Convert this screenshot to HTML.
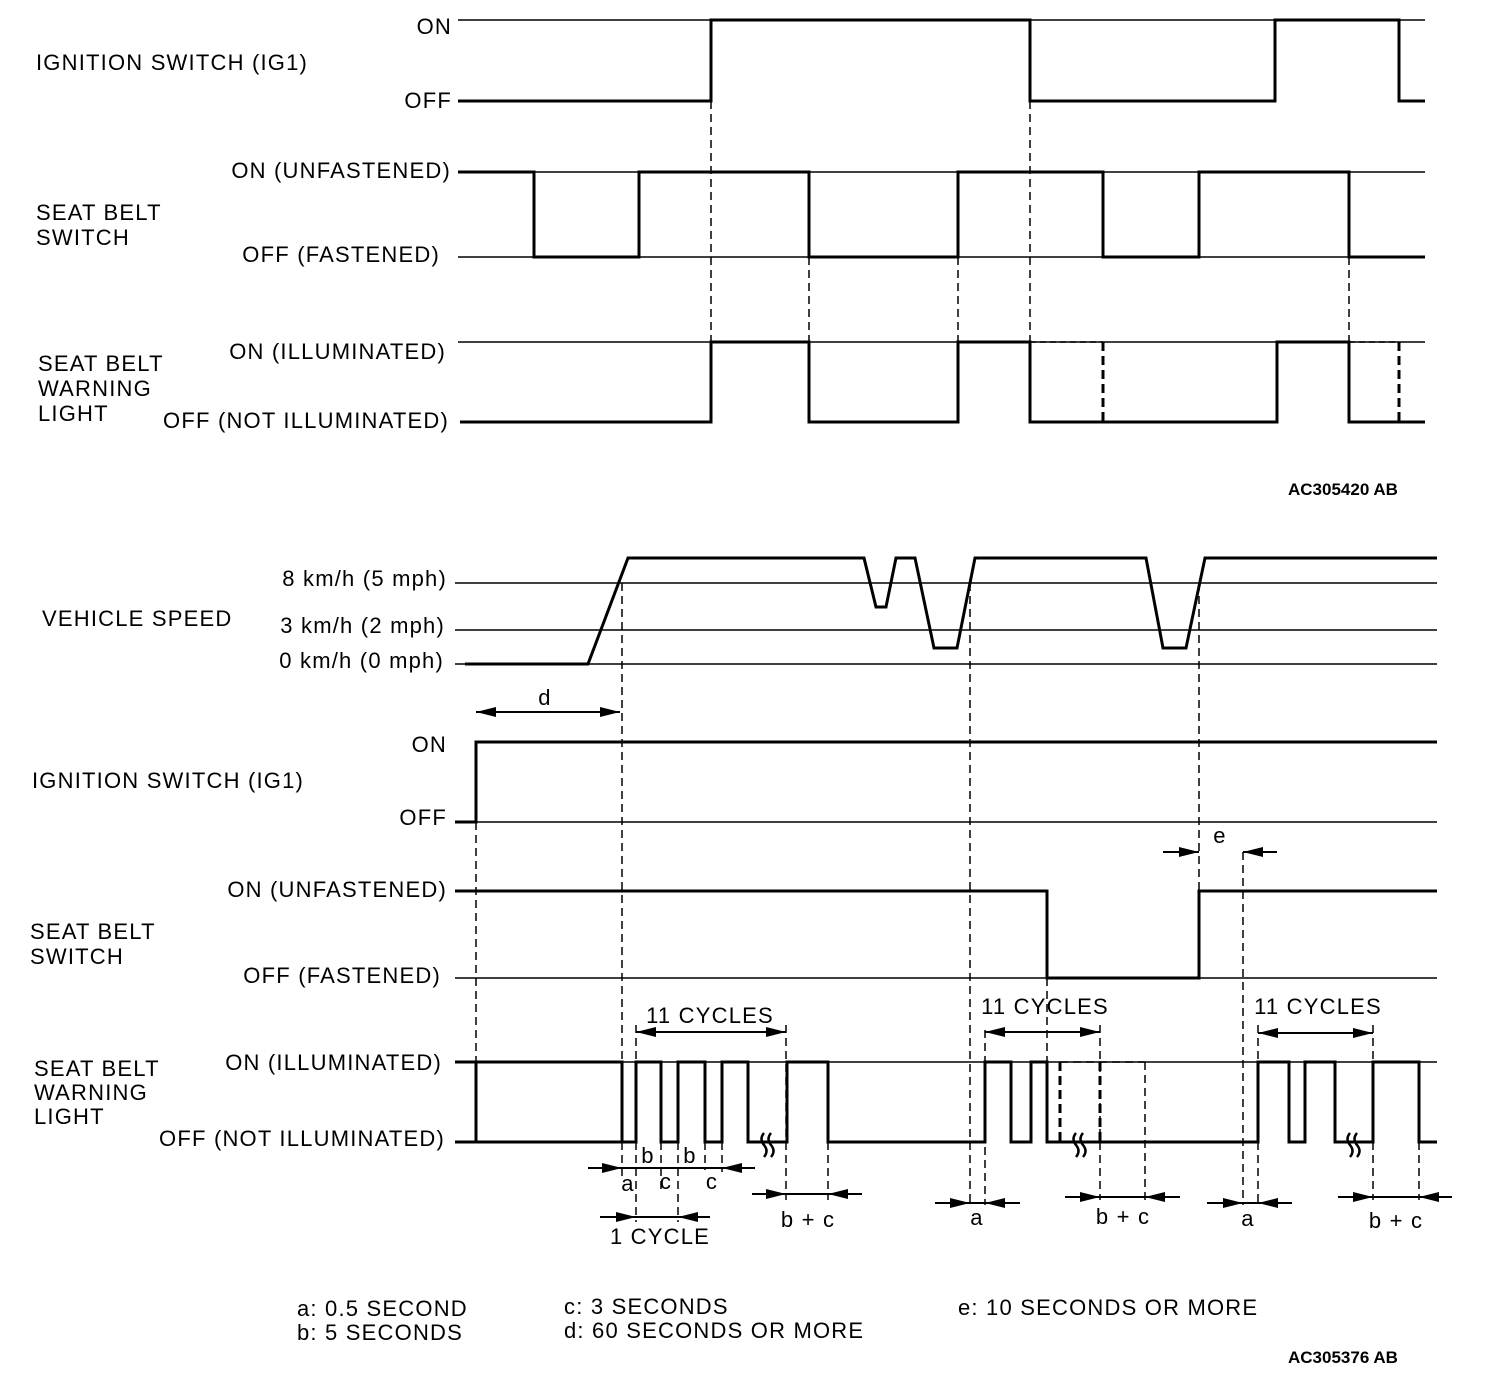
<!DOCTYPE html>
<html><head><meta charset="utf-8"><style>
body{margin:0;background:#fff}
svg{display:block}
text{font-family:"Liberation Sans",Arial,sans-serif;font-size:22px;fill:#000;letter-spacing:1.2px}
.b{font-weight:bold;font-size:17px;letter-spacing:0}
</style></head><body>
<svg width="1504" height="1384" viewBox="0 0 1504 1384" xmlns="http://www.w3.org/2000/svg">
<defs>
<marker id="ar" markerUnits="userSpaceOnUse" markerWidth="22" markerHeight="12" refX="20" refY="6" orient="auto-start-reverse"><path d="M0,1 L20,6 L0,11 Z" fill="#000"/></marker>
</defs>
<g fill="none" stroke="#000">
<g stroke-width="1.5">
<line x1="458" y1="20" x2="1425" y2="20"/>
<line x1="458" y1="172" x2="1425" y2="172"/>
<line x1="458" y1="257" x2="1425" y2="257"/>
<line x1="458" y1="342" x2="1425" y2="342"/>
</g>
<g stroke-width="3">
<polyline points="458,101 711,101 711,20 1030,20 1030,101 1275,101 1275,20 1399,20 1399,101 1425,101"/>
<polyline points="458,172 534,172 534,257 639,257 639,172 809,172 809,257 958,257 958,172 1103,172 1103,257 1199,257 1199,172 1349,172 1349,257 1425,257"/>
<polyline points="460,422 711,422 711,342 809,342 809,422 958,422 958,342 1030,342 1030,422 1277,422 1277,342 1349,342 1349,422 1425,422"/>
</g>
<g stroke-width="1.5" stroke-dasharray="8,5">
<line x1="711" y1="101" x2="711" y2="342"/>
<line x1="1030" y1="101" x2="1030" y2="342"/>
<line x1="809" y1="257" x2="809" y2="342"/>
<line x1="958" y1="257" x2="958" y2="342"/>
<line x1="1349" y1="257" x2="1349" y2="342"/>
</g>
<g stroke-width="3" stroke-dasharray="9,5">
<line x1="1103" y1="342" x2="1103" y2="422"/>
<line x1="1399" y1="342" x2="1399" y2="422"/>
</g>
<g stroke-width="1.5" stroke-dasharray="6,4">
<line x1="1030" y1="342" x2="1103" y2="342"/>
<line x1="1349" y1="342" x2="1399" y2="342"/>
</g>

<g stroke-width="1.5">
<line x1="455" y1="583" x2="1437" y2="583"/>
<line x1="455" y1="630" x2="1437" y2="630"/>
<line x1="455" y1="664" x2="1437" y2="664"/>
<line x1="455" y1="822" x2="1437" y2="822"/>
<line x1="455" y1="978" x2="1437" y2="978"/>
<line x1="455" y1="1062" x2="1437" y2="1062"/>
</g>
<g stroke-width="3">
<polyline points="465,664 588,664 628,558 864,558 876,607 886,607 896,558 915,558 934,648 957,648 975,558 1146,558 1163,648 1186,648 1205,558 1437,558"/>
<polyline points="455,822 476,822 476,742 1437,742"/>
<polyline points="455,891 1047,891 1047,978 1199,978 1199,891 1437,891"/>
<polyline points="455,1062 476,1062 476,1142 455,1142"/>
<polyline points="476,1142 622,1142 622,1062 476,1062"/>
<polyline points="622,1142 636,1142 636,1062 661,1062 661,1142 678,1142 678,1062 705,1062 705,1142 722,1142 722,1062 748,1062 748,1142 787,1142 787,1062 828,1062 828,1142 985,1142 985,1062 1011,1062 1011,1142 1031,1142 1031,1062 1047,1062 1047,1142 1258,1142 1258,1062 1289,1062 1289,1142 1305,1142 1305,1062 1335,1062 1335,1142 1373,1142 1373,1062 1419,1062 1419,1142 1437,1142"/>
</g>
<g stroke-width="2.5">
<path d="M764,1133 q-5,6 0,12 q5,6 0,12"/><path d="M771,1133 q-5,6 0,12 q5,6 0,12"/>
<path d="M1076,1133 q-5,6 0,12 q5,6 0,12"/><path d="M1083,1133 q-5,6 0,12 q5,6 0,12"/>
<path d="M1350,1133 q-5,6 0,12 q5,6 0,12"/><path d="M1357,1133 q-5,6 0,12 q5,6 0,12"/>
</g>
<g stroke-width="3" stroke-dasharray="9,5">
<line x1="1060" y1="1062" x2="1060" y2="1142"/>
<line x1="1100" y1="1062" x2="1100" y2="1142"/>
</g>
<g stroke-width="1.5" stroke-dasharray="8,5">
<line x1="476" y1="822" x2="476" y2="1062"/>
<line x1="622" y1="583" x2="622" y2="1180"/>
<line x1="636" y1="1025" x2="636" y2="1222"/>
<line x1="661" y1="1142" x2="661" y2="1190"/>
<line x1="678" y1="1142" x2="678" y2="1222"/>
<line x1="705" y1="1142" x2="705" y2="1170"/>
<line x1="722" y1="1142" x2="722" y2="1172"/>
<line x1="786" y1="1025" x2="786" y2="1200"/>
<line x1="828" y1="1142" x2="828" y2="1200"/>
<line x1="970" y1="583" x2="970" y2="1205"/>
<line x1="985" y1="1030" x2="985" y2="1205"/>
<line x1="1047" y1="978" x2="1047" y2="1062"/>
<line x1="1100" y1="1025" x2="1100" y2="1200"/>
<line x1="1145" y1="1062" x2="1145" y2="1200"/>
<line x1="1199" y1="583" x2="1199" y2="891"/>
<line x1="1243" y1="852" x2="1243" y2="1205"/>
<line x1="1258" y1="1025" x2="1258" y2="1205"/>
<line x1="1373" y1="1025" x2="1373" y2="1200"/>
<line x1="1419" y1="1142" x2="1419" y2="1200"/>
<line x1="1060" y1="1062" x2="1145" y2="1062"/>
</g>
<g stroke-width="2">
<line x1="476" y1="712" x2="620" y2="712" marker-end="url(#ar)" marker-start="url(#ar)"/>
<line x1="1163" y1="852" x2="1199" y2="852" marker-end="url(#ar)"/>
<line x1="1277" y1="852" x2="1243" y2="852" marker-end="url(#ar)"/>
<line x1="636" y1="1032" x2="786" y2="1032" marker-end="url(#ar)" marker-start="url(#ar)"/>
<line x1="588" y1="1168" x2="622" y2="1168" marker-end="url(#ar)"/>
<line x1="622" y1="1168" x2="722" y2="1168"/>
<line x1="755" y1="1168" x2="722" y2="1168" marker-end="url(#ar)"/>
<line x1="600" y1="1217" x2="636" y2="1217" marker-end="url(#ar)"/>
<line x1="636" y1="1217" x2="678" y2="1217"/>
<line x1="710" y1="1217" x2="678" y2="1217" marker-end="url(#ar)"/>
<line x1="752" y1="1194" x2="786" y2="1194" marker-end="url(#ar)"/>
<line x1="786" y1="1194" x2="828" y2="1194"/>
<line x1="862" y1="1194" x2="828" y2="1194" marker-end="url(#ar)"/>
<line x1="985" y1="1032" x2="1100" y2="1032" marker-end="url(#ar)" marker-start="url(#ar)"/>
<line x1="935" y1="1203" x2="970" y2="1203" marker-end="url(#ar)"/>
<line x1="970" y1="1203" x2="985" y2="1203"/>
<line x1="1020" y1="1203" x2="985" y2="1203" marker-end="url(#ar)"/>
<line x1="1065" y1="1197" x2="1100" y2="1197" marker-end="url(#ar)"/>
<line x1="1100" y1="1197" x2="1145" y2="1197"/>
<line x1="1180" y1="1197" x2="1145" y2="1197" marker-end="url(#ar)"/>
<line x1="1258" y1="1033" x2="1373" y2="1033" marker-end="url(#ar)" marker-start="url(#ar)"/>
<line x1="1207" y1="1203" x2="1243" y2="1203" marker-end="url(#ar)"/>
<line x1="1243" y1="1203" x2="1258" y2="1203"/>
<line x1="1292" y1="1203" x2="1258" y2="1203" marker-end="url(#ar)"/>
<line x1="1338" y1="1197" x2="1373" y2="1197" marker-end="url(#ar)"/>
<line x1="1373" y1="1197" x2="1419" y2="1197"/>
<line x1="1452" y1="1197" x2="1419" y2="1197" marker-end="url(#ar)"/>
</g>
</g>
<g text-anchor="end">
<text x="452" y="34">ON</text>
<text x="452" y="108">OFF</text>
<text x="451" y="178">ON (UNFASTENED)</text>
<text x="440" y="262">OFF (FASTENED)</text>
<text x="446" y="359">ON (ILLUMINATED)</text>
<text x="449" y="428">OFF (NOT ILLUMINATED)</text>
<text x="447" y="586">8 km/h (5 mph)</text>
<text x="445" y="633">3 km/h (2 mph)</text>
<text x="444" y="668">0 km/h (0 mph)</text>
<text x="447" y="752">ON</text>
<text x="447" y="825">OFF</text>
<text x="447" y="897">ON (UNFASTENED)</text>
<text x="441" y="983">OFF (FASTENED)</text>
<text x="442" y="1070">ON (ILLUMINATED)</text>
<text x="445" y="1146">OFF (NOT ILLUMINATED)</text>
</g>
<text x="36" y="70">IGNITION SWITCH (IG1)</text>
<text x="36" y="220">SEAT BELT</text>
<text x="36" y="245">SWITCH</text>
<text x="38" y="371">SEAT BELT</text>
<text x="38" y="396">WARNING</text>
<text x="38" y="421">LIGHT</text>
<text x="42" y="626">VEHICLE SPEED</text>
<text x="32" y="788">IGNITION SWITCH (IG1)</text>
<text x="30" y="939">SEAT BELT</text>
<text x="30" y="964">SWITCH</text>
<text x="34" y="1076">SEAT BELT</text>
<text x="34" y="1100">WARNING</text>
<text x="34" y="1124">LIGHT</text>
<text class="b" x="1288" y="495">AC305420 AB</text>
<text class="b" x="1288" y="1363">AC305376 AB</text>
<g text-anchor="middle">
<text x="545" y="705">d</text>
<text x="1220" y="843">e</text>
<text x="710" y="1023">11 CYCLES</text>
<text x="648" y="1163">b</text>
<text x="690" y="1163">b</text>
<text x="628" y="1191">a</text>
<text x="666" y="1189">c</text>
<text x="712" y="1189">c</text>
<text x="660" y="1244">1 CYCLE</text>
<text x="808" y="1227">b + c</text>
<text x="1045" y="1014">11 CYCLES</text>
<text x="977" y="1225">a</text>
<text x="1123" y="1224">b + c</text>
<text x="1318" y="1014">11 CYCLES</text>
<text x="1248" y="1226">a</text>
<text x="1396" y="1228">b + c</text>
</g>
<text x="297" y="1316">a: 0.5 SECOND</text>
<text x="297" y="1340">b: 5 SECONDS</text>
<text x="564" y="1314">c: 3 SECONDS</text>
<text x="564" y="1338">d: 60 SECONDS  OR MORE</text>
<text x="958" y="1315">e: 10 SECONDS OR MORE</text>
</svg>
</body></html>
